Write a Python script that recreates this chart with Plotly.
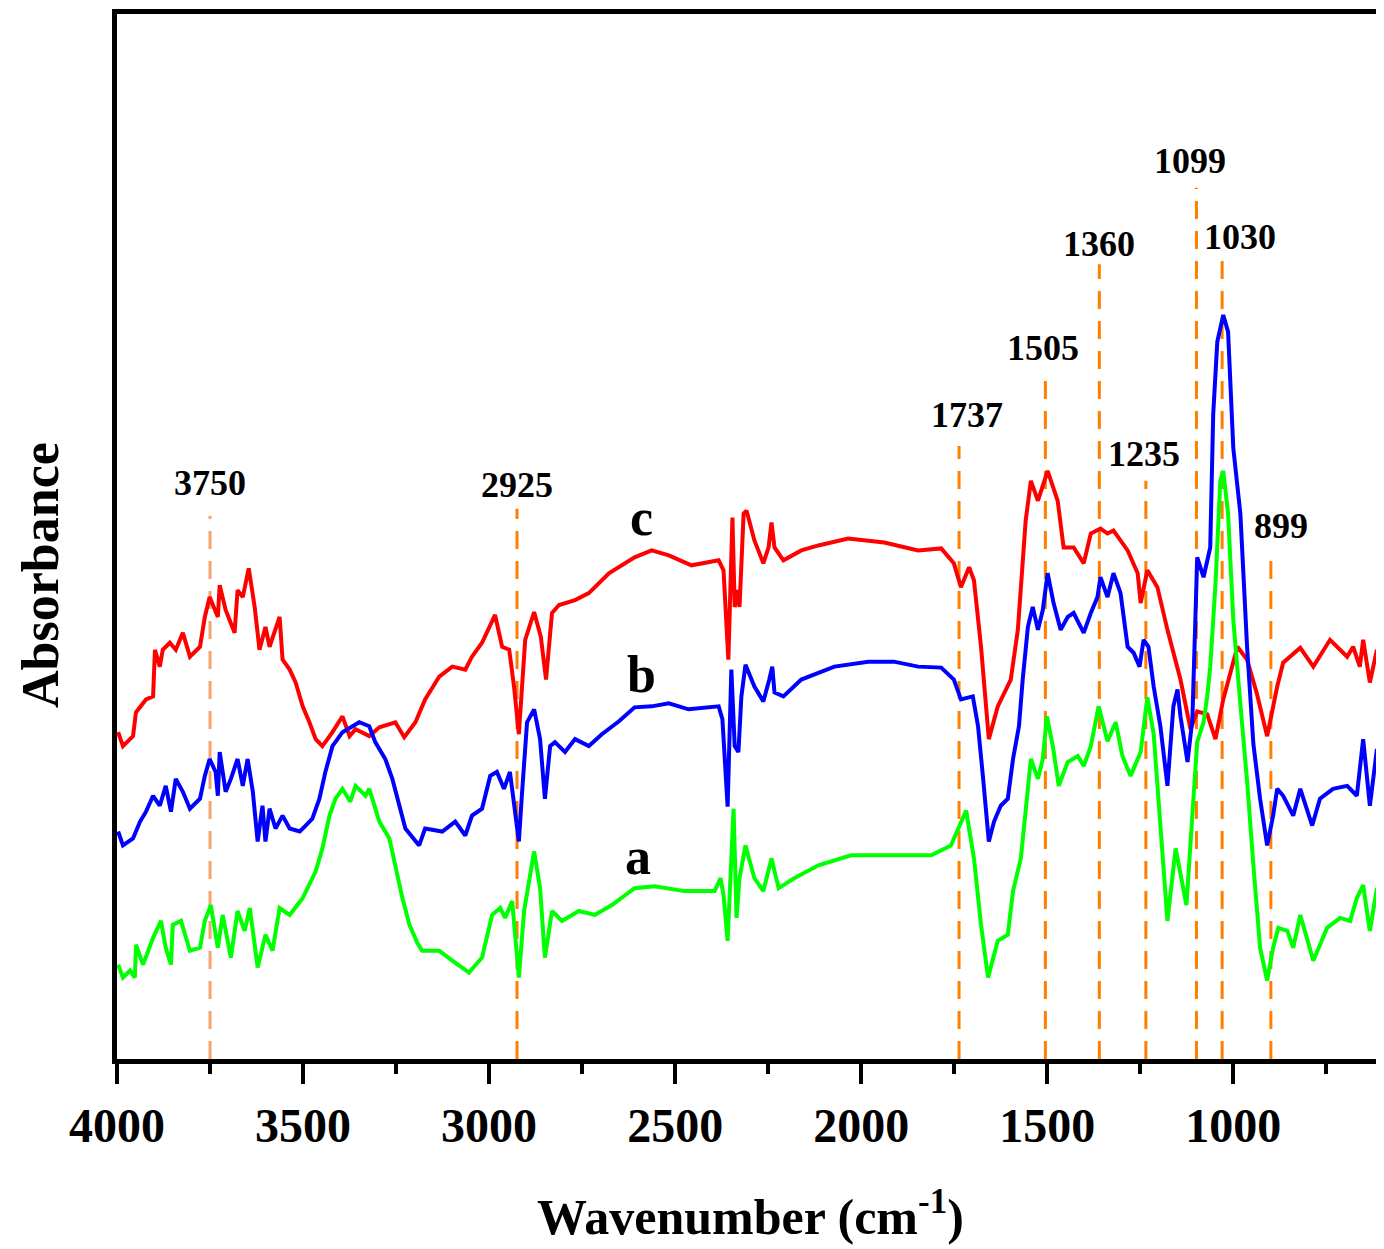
import plotly.graph_objects as go

# ---------------- data (wavenumber cm^-1, absorbance a.u.) ----------------
curve_c = [(3997,0.329),(3984,0.315),(3957,0.325),(3949,0.349),(3922,0.362),(3903,0.365),(3898,0.412),(3885,0.395),
           (3877,0.412),(3858,0.419),(3842,0.412),(3823,0.429),(3804,0.405),(3777,0.415),(3764,0.445),(3751,0.465),
           (3729,0.445),(3724,0.477),(3708,0.452),(3684,0.429),(3676,0.472),(3662,0.465),(3646,0.494),(3630,0.455),
           (3617,0.412),(3601,0.435),(3590,0.415),(3563,0.445),(3555,0.402),(3536,0.392),(3520,0.379),(3501,0.355),
           (3483,0.339),(3466,0.322),(3448,0.315),(3421,0.329),(3394,0.345),(3375,0.325),(3359,0.332),(3322,0.325),
           (3295,0.334),(3252,0.339),(3228,0.324),(3198,0.339),(3172,0.362),(3134,0.385),(3099,0.395),(3064,0.392),
           (3046,0.405),(3019,0.419),(2984,0.447),(2965,0.415),(2946,0.412),(2933,0.375),(2920,0.327),(2903,0.422),
           (2879,0.450),(2861,0.425),(2847,0.382),(2831,0.449),(2812,0.457),(2769,0.462),(2732,0.469),(2678,0.489),
           (2609,0.505),(2563,0.512),(2517,0.507),(2456,0.497),(2383,0.502),(2370,0.492),(2357,0.402),(2346,0.545),
           (2340,0.455),(2330,0.472),(2327,0.455),(2316,0.549),(2308,0.552),(2287,0.522),(2263,0.499),(2249,0.515),
           (2241,0.540),(2233,0.515),(2209,0.502),(2161,0.512),(2115,0.517),(2035,0.524),(1938,0.520),(1847,0.512),
           (1785,0.514),(1751,0.499),(1732,0.475),(1710,0.495),(1697,0.482),(1678,0.415),(1657,0.322),(1633,0.355),
           (1598,0.382),(1579,0.432),(1558,0.542),(1544,0.582),(1525,0.562),(1499,0.592),(1472,0.562),(1456,0.515),
           (1429,0.515),(1402,0.499),(1383,0.529),(1357,0.534),(1338,0.529),(1322,0.532),(1284,0.512),(1257,0.489),
           (1249,0.459),(1231,0.492),(1204,0.475),(1177,0.432),(1142,0.382),(1115,0.332),(1097,0.350),(1070,0.347),
           (1048,0.322),(1027,0.362),(989,0.415),(963,0.402),(936,0.367),(909,0.325),(882,0.375),(866,0.399),
           (820,0.414),(785,0.395),(740,0.422),(694,0.405),(678,0.415),(660,0.395),(651,0.422),(633,0.379),
           (614,0.412),(598,0.342)]

curve_b = [(3997,0.229),(3984,0.215),(3957,0.222),(3938,0.239),(3922,0.249),(3903,0.265),(3885,0.255),(3869,0.275),
           (3855,0.249),(3842,0.282),(3823,0.269),(3804,0.252),(3777,0.262),(3764,0.285),(3751,0.302),(3735,0.289),
           (3729,0.265),(3724,0.309),(3708,0.269),(3694,0.282),(3676,0.302),(3662,0.275),(3649,0.302),(3635,0.269),
           (3622,0.219),(3609,0.255),(3601,0.219),(3590,0.252),(3574,0.232),(3555,0.245),(3536,0.232),(3509,0.229),
           (3493,0.235),(3475,0.242),(3456,0.262),(3440,0.289),(3421,0.315),(3394,0.329),(3349,0.339),(3322,0.335),
           (3306,0.319),(3279,0.302),(3260,0.282),(3241,0.255),(3225,0.232),(3188,0.215),(3172,0.232),(3126,0.229),
           (3091,0.239),(3064,0.225),(3046,0.245),(3019,0.252),(2997,0.285),(2979,0.289),(2960,0.272),(2944,0.289),
           (2930,0.249),(2920,0.219),(2912,0.265),(2898,0.339),(2879,0.352),(2863,0.322),(2850,0.262),(2836,0.315),
           (2823,0.319),(2796,0.309),(2769,0.322),(2732,0.315),(2697,0.327),(2651,0.340),(2609,0.354),(2563,0.355),
           (2517,0.358),(2464,0.352),(2383,0.355),(2373,0.342),(2359,0.254),(2349,0.392),(2340,0.315),(2330,0.309),
           (2322,0.365),(2311,0.397),(2287,0.375),(2263,0.360),(2247,0.382),(2239,0.395),(2233,0.369),(2209,0.365),
           (2161,0.382),(2072,0.395),(1981,0.400),(1912,0.400),(1847,0.395),(1785,0.394),(1751,0.382),(1732,0.362),
           (1700,0.365),(1686,0.335),(1673,0.285),(1657,0.219),(1643,0.239),(1625,0.255),(1606,0.262),(1592,0.302),
           (1576,0.335),(1566,0.382),(1552,0.435),(1539,0.455),(1525,0.432),(1512,0.452),(1499,0.489),(1483,0.459),
           (1464,0.432),(1445,0.445),(1429,0.449),(1402,0.429),(1383,0.449),(1365,0.465),(1357,0.485),(1338,0.465),
           (1322,0.489),(1303,0.469),(1284,0.415),(1268,0.409),(1252,0.395),(1241,0.422),(1228,0.415),(1214,0.375),
           (1196,0.335),(1177,0.275),(1161,0.355),(1150,0.372),(1142,0.345),(1123,0.299),(1110,0.342),(1102,0.462),
           (1097,0.505),(1080,0.485),(1062,0.515),(1054,0.649),(1043,0.722),(1027,0.749),(1014,0.732),(1000,0.615),
           (981,0.549),(963,0.415),(946,0.317),(928,0.262),(909,0.215),(893,0.245),(882,0.272),(866,0.265),
           (839,0.245),(820,0.272),(788,0.235),(767,0.262),(732,0.272),(694,0.275),(668,0.265),(651,0.322),
           (633,0.255),(614,0.312),(598,0.212)]

curve_a = [(3997,0.095),(3984,0.082),(3965,0.089),(3952,0.082),(3949,0.115),(3930,0.095),(3903,0.122),(3882,0.139),
           (3869,0.112),(3855,0.095),(3850,0.135),(3828,0.139),(3804,0.109),(3777,0.112),(3764,0.139),(3748,0.155),
           (3729,0.112),(3716,0.145),(3694,0.102),(3676,0.149),(3657,0.129),(3643,0.152),(3622,0.092),(3601,0.125),
           (3582,0.109),(3563,0.152),(3536,0.145),(3501,0.162),(3466,0.189),(3448,0.212),(3429,0.245),(3413,0.262),
           (3394,0.272),(3373,0.259),(3359,0.275),(3332,0.265),(3322,0.272),(3295,0.239),(3268,0.222),(3252,0.195),
           (3233,0.162),(3214,0.135),(3193,0.117),(3180,0.109),(3134,0.109),(3099,0.099),(3054,0.087),(3019,0.102),
           (2992,0.145),(2970,0.152),(2957,0.142),(2938,0.159),(2920,0.082),(2906,0.149),(2879,0.209),(2863,0.172),
           (2850,0.102),(2831,0.149),(2804,0.139),(2759,0.149),(2716,0.145),(2670,0.155),(2609,0.172),(2555,0.174),
           (2475,0.169),(2394,0.169),(2378,0.182),(2370,0.165),(2359,0.119),(2343,0.252),(2335,0.142),(2327,0.182),
           (2311,0.215),(2287,0.182),(2263,0.169),(2241,0.202),(2222,0.172),(2180,0.182),(2115,0.195),(2027,0.205),
           (1938,0.205),(1812,0.205),(1759,0.215),(1718,0.250),(1697,0.202),(1678,0.135),(1659,0.082),(1633,0.119),
           (1606,0.125),(1592,0.169),(1571,0.202),(1552,0.269),(1544,0.302),(1525,0.282),(1512,0.302),(1501,0.345),
           (1485,0.315),(1469,0.275),(1445,0.299),(1418,0.305),(1402,0.295),(1383,0.315),(1362,0.355),(1338,0.320),
           (1316,0.339),(1298,0.305),(1276,0.285),(1249,0.309),(1231,0.364),(1214,0.327),(1196,0.232),(1177,0.139),
           (1155,0.212),(1126,0.155),(1115,0.217),(1097,0.319),(1080,0.339),(1070,0.365),(1062,0.395),(1048,0.477),
           (1035,0.582),(1027,0.592),(1014,0.549),(1000,0.442),(981,0.357),(963,0.280),(946,0.195),(928,0.112),
           (909,0.079),(893,0.112),(879,0.132),(855,0.129),(839,0.112),(820,0.145),(785,0.099),(748,0.132),
           (713,0.142),(686,0.139),(668,0.162),(651,0.175),(633,0.129),(614,0.172),(598,0.112)]

series_names = ["c", "b", "a"]
series_colors = ["#ff0000", "#0000ff", "#00ff00"]

# marked bands: wavenumber, top of guide line (a.u.), label height (a.u.)
peak_wn = [3750, 2925, 1737, 1505, 1360, 1235, 1099, 1030, 899]
peak_line_top = [0.547, 0.554, 0.617, 0.687, 0.800, 0.582, 0.877, 0.804, 0.507]
peak_label_y = [0.580, 0.578, 0.648, 0.716, 0.820, 0.609, 0.904, 0.828, 0.537]
peak_label_dx = [0, 0, 8, -2, 0, -2, -6, 18, 10]

curve_label_pos = [(2590, 0.545), (2590, 0.387), (2600, 0.204)]

x_ticks = [4000, 3500, 3000, 2500, 2000, 1500, 1000]
x_minor = [3750, 3250, 2750, 2250, 1750, 1250, 750]

SERIF = "Liberation Serif, Times New Roman, serif"

# page has an 8px body margin: size the figure so it fits the window
PAGE_OFF = 8
W, H = 1384 - PAGE_OFF, 1249 - PAGE_OFF
L, R, T, B = 109, 0, 6, 190
pw, ph = W - L - R, H - T - B


def paper_x(win_px):
    return (win_px - PAGE_OFF - L) / pw


def paper_y(win_py):
    return ((H - B) - (win_py - PAGE_OFF)) / ph


fig = go.Figure()

# dashed guide lines
for i, (p, top) in enumerate(zip(peak_wn, peak_line_top)):
    col = "#f4a46e" if i == 0 else "#ff8000"
    fig.add_trace(go.Scatter(x=[p, p], y=[0, top], mode="lines",
                             line=dict(color=col, width=3, dash="18px,12px"),
                             hoverinfo="skip", showlegend=False))

for pts, name, col in zip([curve_c, curve_b, curve_a], series_names, series_colors):
    xs = [p[0] for p in pts]
    ys = [p[1] for p in pts]
    fig.add_trace(go.Scatter(x=xs, y=ys, mode="lines", name=name,
                             line=dict(color=col, width=4), showlegend=False))

annotations = []
for p, ly, dx in zip(peak_wn, peak_label_y, peak_label_dx):
    annotations.append(dict(x=p, y=ly, xref="x", yref="y", text=str(p), showarrow=False,
                            xshift=dx, xanchor="center", yanchor="middle",
                            font=dict(family=SERIF, size=36, color="black", weight="bold")))
for (lx, ly), name in zip(curve_label_pos, series_names):
    annotations.append(dict(x=lx, y=ly, xref="x", yref="y", text=name, showarrow=False,
                            xanchor="center", yanchor="middle",
                            font=dict(family=SERIF, size=52, color="black", weight="bold")))

# axis titles
annotations.append(dict(x=paper_x(750), y=paper_y(1213), xref="paper", yref="paper",
                        text="Wavenumber (cm<sup>-1</sup>)", showarrow=False,
                        xanchor="center", yanchor="middle",
                        font=dict(family=SERIF, size=50, color="black", weight="bold")))
annotations.append(dict(x=paper_x(40), y=paper_y(575), xref="paper", yref="paper",
                        text="Absorbance", showarrow=False, textangle=-90,
                        xanchor="center", yanchor="middle",
                        font=dict(family=SERIF, size=52, color="black", weight="bold")))

fig.update_layout(
    width=W, height=H,
    margin=dict(l=L, r=R, t=T, b=B),
    plot_bgcolor="white", paper_bgcolor="white",
    annotations=annotations,
    xaxis=dict(range=[4000, 595], showgrid=False, zeroline=False,
               showline=True, linecolor="black", linewidth=5, mirror=True,
               ticks="outside", ticklen=20, tickwidth=4, tickcolor="black",
               tickvals=x_ticks, ticktext=[str(t) for t in x_ticks],
               minor=dict(ticks="outside", ticklen=10, tickwidth=4, tickcolor="black",
                          tickvals=x_minor),
               tickfont=dict(family=SERIF, size=48, color="black", weight="bold")),
    yaxis=dict(range=[0, 1.052], showgrid=False, zeroline=False,
               showline=True, linecolor="black", linewidth=5, mirror=False,
               ticks="", showticklabels=False),
)

fig.write_html("out.html")
